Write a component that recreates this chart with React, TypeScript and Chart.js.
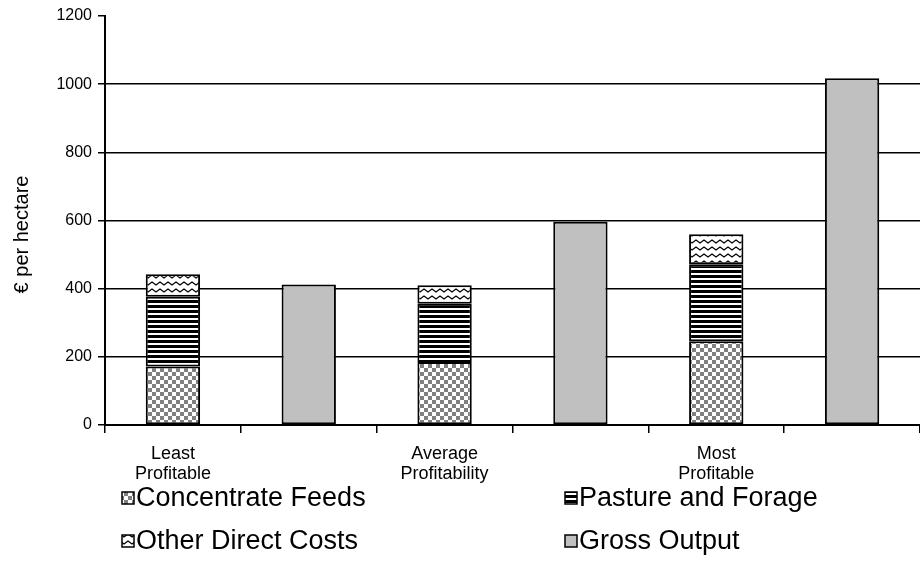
import React, { useEffect, useRef } from "react";
import { Chart, registerables } from "chart.js";

Chart.register(...registerables);

// ---- data ----
const categories: (string | string[])[] = [
  ["Least", "Profitable"],
  "",
  ["Average", "Profitability"],
  "",
  ["Most", "Profitable"],
  "",
];
const concentrateFeeds = [172, null, 185, null, 246, null];
const pastureAndForage = [204, null, 171, null, 226, null];
const otherDirectCosts = [66, null, 54, null, 88, null];
const grossOutput = [null, 412, null, 596, null, 1017];
const seriesLabels = ["Concentrate Feeds", "Pasture and Forage", "Other Direct Costs", "Gross Output"];
const yMin = 0;
const yMax = 1200;
const yStep = 200;
const yTitle = "€ per hectare";

const FONT = "'Liberation Sans', Arial, sans-serif";

function makePattern(w: number, h: number, draw: (c: CanvasRenderingContext2D) => void): CanvasPattern | string {
  const cv = document.createElement("canvas");
  cv.width = w;
  cv.height = h;
  const c = cv.getContext("2d");
  if (!c) return "#888";
  c.fillStyle = "#fff";
  c.fillRect(0, 0, w, h);
  draw(c);
  const p = c.createPattern(cv, "repeat");
  return p || "#888";
}

const legendPlugin = {
  id: "quadLegend",
  afterDraw(chart: any) {
    const ctx = chart.ctx as CanvasRenderingContext2D;
    const cols = [122, 565];
    const rows = [498, 541];
    const box = 12;
    ctx.save();
    ctx.font = `27px ${FONT}`;
    ctx.textBaseline = "middle";
    ctx.textAlign = "left";
    chart.data.datasets.forEach((ds: any, i: number) => {
      const x = cols[i % 2];
      const y = rows[Math.floor(i / 2)];
      ctx.fillStyle = ds.backgroundColor;
      ctx.fillRect(x, y - box / 2, box, box);
      ctx.strokeStyle = "#000";
      ctx.lineWidth = 1.5;
      ctx.strokeRect(x, y - box / 2, box, box);
      ctx.fillStyle = "#000";
      ctx.fillText(ds.label, x + box + 2, y + 1);
    });
    ctx.restore();
  },
};

const yTitlePlugin = {
  id: "yTitleShifted",
  afterDraw(chart: any) {
    const ctx = chart.ctx as CanvasRenderingContext2D;
    const area = chart.chartArea;
    ctx.save();
    ctx.translate(22, (area.top + area.bottom) / 2 + 14);
    ctx.rotate(-Math.PI / 2);
    ctx.font = `20px ${FONT}`;
    ctx.fillStyle = "#000";
    ctx.textAlign = "center";
    ctx.textBaseline = "middle";
    ctx.fillText(yTitle, 0, 0);
    ctx.restore();
  },
};

export default function App() {
  const ref = useRef<HTMLCanvasElement | null>(null);

  useEffect(() => {
    document.body.style.margin = "0";
    const canvas = ref.current;
    if (!canvas) return;

    const checker = makePattern(8, 8, (c) => {
      c.fillStyle = "#808080";
      c.fillRect(0, 0, 4, 4);
      c.fillRect(4, 4, 4, 4);
    });
    const stripes = makePattern(8, 5, (c) => {
      c.fillStyle = "#000";
      c.fillRect(0, 0, 8, 3);
    });
    const zigzag = makePattern(8, 7, (c) => {
      c.strokeStyle = "#000";
      c.lineWidth = 1.2;
      c.beginPath();
      c.moveTo(-2, 4.5);
      c.lineTo(0, 2);
      c.lineTo(4, 5);
      c.lineTo(8, 2);
      c.lineTo(10, 4.5);
      c.stroke();
    });

    const common = {
      borderColor: "#000",
      borderWidth: 2,
      borderSkipped: false,
      barPercentage: 0.4,
      categoryPercentage: 1,
    };

    const chart = new Chart(canvas, {
      type: "bar",
      data: {
        labels: categories as any,
        datasets: [
          { label: seriesLabels[0], data: concentrateFeeds, backgroundColor: checker as any, ...common },
          { label: seriesLabels[1], data: pastureAndForage, backgroundColor: stripes as any, ...common },
          { label: seriesLabels[2], data: otherDirectCosts, backgroundColor: zigzag as any, ...common },
          { label: seriesLabels[3], data: grossOutput, backgroundColor: "#C0C0C0", ...common },
        ] as any,
      },
      options: {
        responsive: false,
        animation: false,
        layout: { padding: { top: 16, right: 0, left: 0, bottom: 0 } },
        plugins: {
          legend: { display: false },
          tooltip: { enabled: false },
        },
        scales: {
          x: {
            stacked: true,
            offset: true,
            grid: {
              offset: true,
              drawOnChartArea: false,
              drawTicks: true,
              tickLength: 8,
              color: "#000",
              lineWidth: 1.5,
            },
            border: { display: true, color: "#000", width: 2 },
            ticks: {
              color: "#000",
              font: { family: FONT, size: 18, lineHeight: 1.1 },
              padding: 11,
              maxRotation: 0,
              autoSkip: false,
            },
            afterFit(scale: any) {
              scale.height = 161;
            },
          },
          y: {
            stacked: true,
            min: yMin,
            max: yMax,
            ticks: {
              stepSize: yStep,
              color: "#000",
              font: { family: FONT, size: 16 },
              padding: 6,
              callback: (v: any) => String(v),
            },
            grid: {
              color: (ctx: any) => (ctx.tick && ctx.tick.value === yMax ? "rgba(0,0,0,0)" : "#000"),
              tickColor: "#000",
              lineWidth: 1.5,
              drawTicks: true,
              tickLength: 7,
            },
            border: { display: true, color: "#000", width: 2 },
            title: { display: false },
            afterFit(scale: any) {
              scale.width = 105;
            },
          },
        },
      } as any,
      plugins: [legendPlugin, yTitlePlugin],
    });

    return () => chart.destroy();
  }, []);

  return (
    <div style={{ width: 920, height: 586 }}>
      <canvas ref={ref} width={920} height={586} style={{ display: "block" }} />
    </div>
  );
}
